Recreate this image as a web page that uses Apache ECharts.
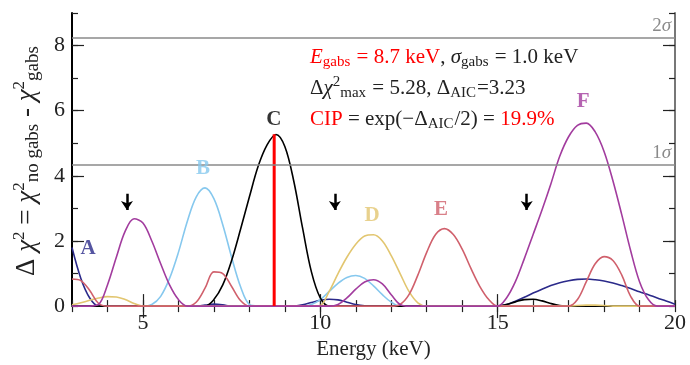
<!DOCTYPE html>
<html>
<head>
<meta charset="utf-8">
<script src="https://cdn.jsdelivr.net/npm/echarts@6/dist/echarts.min.js"></script>
<style>
  html, body { margin: 0; padding: 0; background: #fff; }
  #chart { width: 690px; height: 365px; }
</style>
</head>
<body>
<div id="chart"></div>
<script>
// energy grid (keV)
const energy = [
  3.0, 3.25, 3.5, 3.75, 4.0, 4.25, 4.5, 4.75, 5.0, 5.25,
  5.5, 5.75, 6.0, 6.25, 6.5, 6.75, 7.0, 7.25, 7.5, 7.75,
  8.0, 8.25, 8.5, 8.75, 9.0, 9.25, 9.5, 9.75, 10.0, 10.25,
  10.5, 10.75, 11.0, 11.25, 11.5, 11.75, 12.0, 12.25, 12.5, 12.75,
  13.0, 13.25, 13.5, 13.75, 14.0, 14.25, 14.5, 14.75, 15.0, 15.25,
  15.5, 15.75, 16.0, 16.25, 16.5, 16.75, 17.0, 17.25, 17.5, 17.75,
  18.0, 18.25, 18.5, 18.75, 19.0, 19.25, 19.5, 19.75, 20.0
]

const curveA = [
  1.80, 0.85, 0.25, 0, 0, 0, 0, 0, 0, 0,
  0, 0, 0, 0, 0, 0.03, 0.06, 0.04, 0, 0,
  0, 0, 0, 0, 0, 0, 0.04, 0.11, 0.18, 0.21,
  0.19, 0.12, 0.05, 0.01, 0, 0, 0, 0, 0, 0,
  0, 0, 0, 0, 0, 0, 0, 0, 0, 0.05,
  0.15, 0.27, 0.40, 0.52, 0.63, 0.72, 0.78, 0.82, 0.83, 0.81,
  0.77, 0.71, 0.63, 0.54, 0.44, 0.35, 0.25, 0.16, 0.06
]
const curveB = [
  0, 0, 0, 0, 0, 0, 0, 0, 0, 0.05,
  0.30, 0.85, 1.65, 2.60, 3.35, 3.63, 3.30, 2.50, 1.50, 0.60,
  0.05, 0, 0, 0, 0, 0, 0, 0.05, 0.20, 0.45,
  0.70, 0.88, 0.94, 0.85, 0.62, 0.35, 0.12, 0, 0, 0,
  0, 0, 0, 0, 0, 0, 0, 0, 0, 0,
  0, 0, 0, 0, 0, 0, 0, 0, 0, 0,
  0, 0, 0, 0, 0, 0, 0, 0, 0
]
const curveC = [
  0, 0, 0, 0, 0, 0, 0, 0, 0, 0,
  0, 0, 0, 0, 0, 0, 0.20, 0.65, 1.40, 2.35,
  3.35, 4.30, 4.95, 5.27, 4.90, 3.85, 2.40, 1.05, 0.25, 0,
  0, 0, 0, 0, 0, 0, 0, 0, 0, 0,
  0, 0, 0, 0, 0, 0, 0, 0, 0, 0.05,
  0.13, 0.20, 0.21, 0.16, 0.08, 0.02, 0, 0, 0, 0,
  0, 0, 0, 0, 0, 0, 0, 0, 0
]
const curveD = [
  0.04, 0.10, 0.18, 0.25, 0.29, 0.28, 0.20, 0.08, 0, 0,
  0, 0, 0, 0, 0, 0, 0, 0, 0, 0,
  0, 0, 0, 0, 0, 0, 0, 0, 0.02, 0.45,
  1.00, 1.50, 1.90, 2.15, 2.19, 2.00, 1.55, 1.00, 0.45, 0.10,
  0, 0, 0, 0, 0, 0, 0, 0, 0, 0,
  0, 0, 0, 0, 0, 0, 0, 0.02, 0.03, 0.03,
  0.02, 0, 0, 0, 0, 0, 0, 0, 0
]
const curveE = [
  0.83, 0.78, 0.48, 0.08, 0, 0, 0, 0, 0, 0,
  0, 0, 0, 0, 0.12, 0.55, 1.05, 1.00, 0.60, 0.17,
  0, 0, 0, 0, 0, 0, 0, 0, 0, 0,
  0, 0, 0, 0, 0, 0, 0, 0.05, 0.35, 0.95,
  1.65, 2.20, 2.38, 2.20, 1.75, 1.15, 0.60, 0.20, 0, 0,
  0, 0, 0, 0, 0, 0, 0, 0.20, 0.75, 1.30,
  1.52, 1.40, 0.95, 0.30, 0, 0, 0, 0, 0
]
const curveF = [
  0, 0, 0, 0.05, 0.65, 1.50, 2.30, 2.68, 2.55, 2.00,
  1.30, 0.65, 0.20, 0, 0, 0, 0, 0, 0, 0,
  0, 0, 0, 0, 0, 0, 0, 0, 0, 0,
  0.05, 0.25, 0.52, 0.74, 0.81, 0.68, 0.35, 0.05, 0, 0,
  0, 0, 0, 0, 0, 0, 0, 0, 0, 0.25,
  0.75, 1.45, 2.20, 2.95, 3.75, 4.60, 5.20, 5.55, 5.62, 5.35,
  4.75, 3.85, 2.80, 1.70, 0.75, 0.20, 0, 0, 0
]

const curveNames = ['A', 'B', 'C', 'D', 'E', 'F']
const curveColors = ['#2B2A8A', '#86C8EE', '#000000', '#E2C670', '#D0606C', '#A23C9E']
const curves = [curveA, curveB, curveC, curveD, curveE, curveF]

// letter tags next to each curve
const tagX = [3.45, 6.69, 8.69, 11.46, 13.40, 17.41]
const tagY = [1.77, 4.23, 5.73, 2.79, 2.97, 6.27]

// best-fit line energy and its delta chi2
const lineEnergy = 8.7
const linePeak = 5.28

// confidence levels
const sigmaNames = ['2σ', '1σ']
const sigmaValues = [8.24, 4.34]

// down arrows
const arrowX = [4.55, 10.41, 15.82]
const arrowTop = 3.45
const arrowBottom = 2.95

const serif = '"Liberation Serif", "DejaVu Serif", serif'
const red = '#FF0000'
const ink = '#222'

const chart = echarts.init(document.getElementById('chart'))

const axisBase = {
  type: 'value',
  min: 3,
  max: 20,
  interval: 1,
  splitLine: { show: false }
}
const yBase = {
  type: 'value',
  min: 0,
  max: 9,
  interval: 1,
  splitLine: { show: false }
}

const series = curves.map((c, k) => ({
  name: curveNames[k],
  type: 'line',
  symbol: 'none',
  smooth: 0.35,
  data: energy.map((e, i) => [e, c[i]]),
  lineStyle: { color: curveColors[k], width: 1.6 },
  z: 3
}))

series.push({
  type: 'line',
  symbol: 'none',
  data: [[lineEnergy, 0], [lineEnergy, linePeak]],
  lineStyle: { color: red, width: 3 },
  z: 4
})

series.push({
  type: 'line',
  data: [],
  markLine: {
    silent: true,
    symbol: ['none', 'none'],
    lineStyle: { color: '#8a8a8a', width: 1.6, type: 'solid' },
    label: {
      position: 'insideEndTop',
      distance: [4, 2],
      formatter: p => '{n|' + p.name.slice(0, 1) + '}{s|σ}',
      rich: {
        n: { fontFamily: serif, fontSize: 19, color: '#8a8a8a' },
        s: { fontFamily: serif, fontSize: 19, fontStyle: 'italic', color: '#8a8a8a' }
      }
    },
    data: sigmaValues.map((v, i) => ({ name: sigmaNames[i], yAxis: v }))
  }
})

series.push({
  type: 'line',
  data: [],
  markLine: {
    silent: true,
    symbol: ['none', 'arrow'],
    symbolSize: [9, 9],
    lineStyle: { color: '#000', width: 2.5, type: 'solid' },
    label: { show: false },
    data: arrowX.map(x => [{ coord: [x, arrowTop] }, { coord: [x, arrowBottom] }])
  }
})

series.push({
  type: 'scatter',
  symbolSize: 0,
  data: tagX.map((x, i) => ({
    value: [x, tagY[i]],
    label: {
      show: true,
      position: 'inside',
      formatter: curveNames[i],
      color: curveColors[i],
      fontFamily: serif,
      fontWeight: 'bold',
      fontSize: 21
    }
  })),
  z: 5
})

const tickMinor = { show: true, inside: true, length: 6, lineStyle: { color: ink, width: 1.2 } }
const tickMajor = { show: true, inside: true, length: 12, lineStyle: { color: ink, width: 1.2 } }

chart.setOption({
  animation: false,
  grid: { left: 72, right: 15, top: 13, bottom: 52 },
  xAxis: [
    Object.assign({}, axisBase, {
      position: 'bottom',
      axisLine: { lineStyle: { color: '#000', width: 2 } },
      axisTick: tickMinor,
      axisLabel: {
        color: ink,
        fontFamily: serif,
        fontSize: 22,
        margin: 6,
        formatter: v => (v % 5 === 0 ? v : '')
      },
      name: 'Energy (keV)',
      nameLocation: 'middle',
      nameGap: 27,
      nameTextStyle: { color: ink, fontFamily: serif, fontSize: 21 }
    }),
    Object.assign({}, axisBase, {
      position: 'bottom',
      axisLine: { show: false },
      axisTick: Object.assign({ customValues: [5, 10, 15] }, tickMajor),
      axisLabel: { show: false }
    }),
    Object.assign({}, axisBase, {
      position: 'top',
      axisLine: { lineStyle: { color: '#777', width: 2 } },
      axisTick: tickMinor,
      axisLabel: { show: false }
    }),
    Object.assign({}, axisBase, {
      position: 'top',
      axisLine: { show: false },
      axisTick: Object.assign({ customValues: [5, 10, 15] }, tickMajor),
      axisLabel: { show: false }
    })
  ],
  yAxis: [
    Object.assign({}, yBase, {
      position: 'left',
      axisLine: { lineStyle: { color: '#000', width: 2 } },
      axisTick: tickMinor,
      axisLabel: {
        color: ink,
        fontFamily: serif,
        fontSize: 22,
        margin: 7,
        formatter: v => (v % 2 === 0 ? v : '')
      }
    }),
    Object.assign({}, yBase, {
      position: 'left',
      axisLine: { show: false },
      axisTick: Object.assign({ customValues: [2, 4, 6, 8] }, tickMajor),
      axisLabel: { show: false }
    }),
    Object.assign({}, yBase, {
      position: 'right',
      axisLine: { lineStyle: { color: '#777', width: 2 } },
      axisTick: tickMinor,
      axisLabel: { show: false }
    }),
    Object.assign({}, yBase, {
      position: 'right',
      axisLine: { show: false },
      axisTick: Object.assign({ customValues: [2, 4, 6, 8] }, tickMajor),
      axisLabel: { show: false }
    })
  ],
  graphic: [
    {
      type: 'text',
      left: 310,
      top: 45,
      z: 10,
      style: {
        text: [
          '{ri|E}{rs|gabs}{r| = 8.7 keV}{k|, }{ki|σ}{ks|gabs}{k| = 1.0 keV}',
          '{k|Δ}{ki|χ}{kp|2}{ks|max}{k| = 5.28, Δ}{ks|AIC}{k|=3.23}',
          '{r|CIP}{k| = exp(−Δ}{ks|AIC}{k|/2) = }{r|19.9%}'
        ].join('\n'),
        rich: {
          r: { fontFamily: serif, fontSize: 21, fill: red, lineHeight: 31 },
          ri: { fontFamily: serif, fontSize: 21, fontStyle: 'italic', fill: red, lineHeight: 31 },
          rs: { fontFamily: serif, fontSize: 15, fill: red, lineHeight: 15, padding: [10, 1, 0, 0] },
          k: { fontFamily: serif, fontSize: 21, fill: ink, lineHeight: 31 },
          ki: { fontFamily: serif, fontSize: 21, fontStyle: 'italic', fill: ink, lineHeight: 31 },
          ks: { fontFamily: serif, fontSize: 15, fill: ink, lineHeight: 15, padding: [10, 1, 0, 0] },
          kp: { fontFamily: serif, fontSize: 15, fill: ink, lineHeight: 15, padding: [0, 0, 12, 0] }
        }
      }
    },
    {
      type: 'text',
      x: 27,
      y: 161,
      rotation: Math.PI / 2,
      z: 10,
      style: {
        text: '{k|Δ }{ki|χ}{kp|2}{k| = }{ki|χ}{kp|2}{ks|no gabs}{k| - }{ki|χ}{kp|2}{ks|gabs}',
        align: 'center',
        verticalAlign: 'middle',
        rich: {
          k: { fontFamily: serif, fontSize: 27, fill: ink, lineHeight: 34 },
          ki: { fontFamily: serif, fontSize: 27, fontStyle: 'italic', fill: ink, lineHeight: 34 },
          ks: { fontFamily: serif, fontSize: 19, fill: ink, lineHeight: 19, padding: [13, 0, 0, 0] },
          kp: { fontFamily: serif, fontSize: 17, fill: ink, lineHeight: 17, padding: [0, 0, 15, 0] }
        }
      }
    }
  ],
  series: series
})
</script>
</body>
</html>
